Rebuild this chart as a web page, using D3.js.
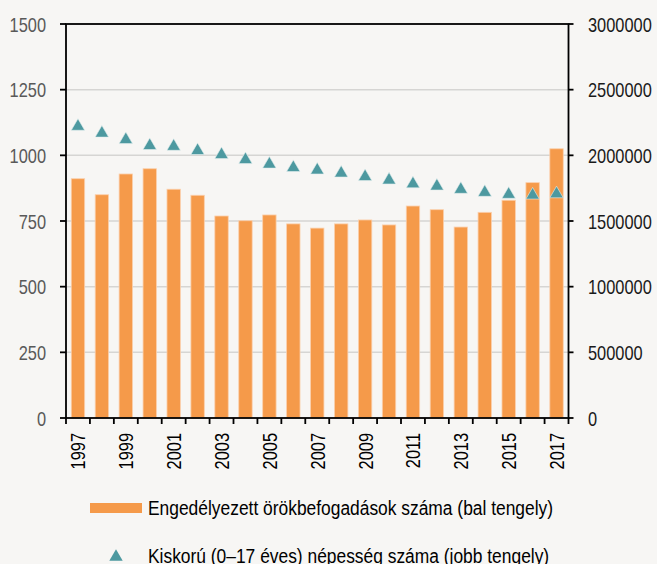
<!DOCTYPE html>
<html>
<head>
<meta charset="utf-8">
<script src="https://cdn.jsdelivr.net/npm/d3@7"></script>
<style>
  html, body { margin: 0; padding: 0; background: #f7f6f4; }
  svg { display: block; font-family: Arial, "Liberation Sans", sans-serif; }
</style>
</head>
<body>
<svg width="657" height="564"></svg>
<script>
  // Data
  const years = d3.range(1997, 2018);
  const adoptions = [911, 850, 929, 949, 871, 848, 769, 751, 773, 739, 723,
                     739, 754, 735, 807, 793, 727, 783, 829, 896, 1025];
  const minors = [2235000, 2183000, 2133500, 2088600, 2082500, 2050500, 2019300,
                  1981200, 1947000, 1921000, 1902000, 1879000, 1851800, 1826000,
                  1797000, 1780000, 1755000, 1732000, 1717000, 1711500, 1721000];
  const leftTicks = [0, 250, 500, 750, 1000, 1250, 1500];
  const rightTicks = [0, 500000, 1000000, 1500000, 2000000, 2500000, 3000000];
  const legendLabels = [
    "Engedélyezett örökbefogadások száma (bal tengely)",
    "Kiskorú (0–17 éves) népesség száma (jobb tengely)"
  ];

  const
    BAR_COLOR = "#f59a4a",
    TRI_COLOR = "#4d99a0",
    AXIS_NARROW = 0.82,
    LEGEND_NARROW = 0.87,
    FONT = 20,
    plotLeft = 66, plotRight = 568.5, plotTop = 24, plotBottom = 418
  ;

  const svg = d3.select("svg");

  const x = d3.scaleBand().domain(years).range([plotLeft, plotRight])
    .paddingInner(0.44).paddingOuter(0.22);
  const yL = d3.scaleLinear().domain([0, 1500]).range([plotBottom, plotTop]);
  const yR = d3.scaleLinear().domain([0, 3000000]).range([plotBottom, plotTop]);

  // narrow text helper (reference font is condensed)
  function label(g, txt, tx, ty, anchor, fill, rot, narrow) {
    return g.append("text")
      .attr("transform", `translate(${tx},${ty})${rot ? " rotate(" + rot + ")" : ""} scale(${narrow || AXIS_NARROW},1)`)
      .attr("text-anchor", anchor)
      .attr("font-size", FONT)
      .attr("fill", fill)
      .text(txt);
  }

  // Gridlines
  svg.append("g")
    .selectAll("line")
    .data(leftTicks.filter(d => d > 0 && d < 1500)).enter()
    .append("line")
      .attr("x1", plotLeft).attr("x2", plotRight)
      .attr("y1", d => yL(d)).attr("y2", d => yL(d))
      .attr("stroke", "#d6d5d3").attr("stroke-width", 1.5);

  // Bars
  svg.append("g")
    .selectAll("rect")
    .data(years).enter()
    .append("rect")
      .attr("x", d => x(d))
      .attr("width", x.bandwidth())
      .attr("y", (d, i) => yL(adoptions[i]))
      .attr("height", (d, i) => plotBottom - yL(adoptions[i]))
      .attr("fill", BAR_COLOR)
      .attr("stroke", "#fbd0ad").attr("stroke-width", 0.8);

  // Triangles
  const tri = d3.symbol().type(d3.symbolTriangle).size(78);
  const triH = Math.sqrt(78 / Math.sqrt(3) * 4) * Math.sqrt(3) / 2;
  svg.append("g")
    .selectAll("path")
    .data(years).enter()
    .append("path")
      .attr("d", tri)
      .attr("transform", (d, i) => `translate(${x(d) + x.bandwidth() / 2},${yR(minors[i]) + triH / 6})`)
      .attr("fill", TRI_COLOR)
      .attr("stroke", "#e3efef").attr("stroke-width", 0.6);

  // Frame and axes
  const axes = svg.append("g").attr("stroke", "#000").attr("stroke-width", 1.8).attr("fill", "none");
  axes.append("rect").attr("x", plotLeft).attr("y", plotTop)
    .attr("width", plotRight - plotLeft).attr("height", plotBottom - plotTop);
  leftTicks.forEach(d => axes.append("line").attr("x1", plotLeft - 6).attr("x2", plotLeft).attr("y1", yL(d)).attr("y2", yL(d)));
  rightTicks.forEach(d => axes.append("line").attr("x1", plotRight).attr("x2", plotRight + 5).attr("y1", yR(d)).attr("y2", yR(d)));
  years.concat([null]).forEach((d, i) => {
    const xx = plotLeft + i * x.step();
    axes.append("line").attr("x1", xx).attr("x2", xx).attr("y1", plotBottom).attr("y2", plotBottom + 6);
  });

  // Axis labels
  const labels = svg.append("g");
  leftTicks.forEach(d => label(labels, d, 46, yL(d) + 7.5, "end", "#595959"));
  rightTicks.forEach(d => label(labels, d, 588, yR(d) + 7.5, "start", "#1a1a1a"));
  years.filter(d => d % 2 === 1).forEach(d =>
    label(labels, d, x(d) + x.bandwidth() / 2 + 7.5, 433, "end", "#000", -90));

  // Legend
  const legend = svg.append("g");
  legend.append("rect")
    .attr("x", 90).attr("y", 503).attr("width", 52).attr("height", 10)
    .attr("fill", BAR_COLOR);
  legend.append("path")
    .attr("d", tri)
    .attr("transform", `translate(116,${555 + triH / 6})`)
    .attr("fill", TRI_COLOR);
  label(legend, legendLabels[0], 148, 515, "start", "#000", 0, LEGEND_NARROW);
  label(legend, legendLabels[1], 148, 563, "start", "#000", 0, LEGEND_NARROW);
</script>
</body>
</html>
